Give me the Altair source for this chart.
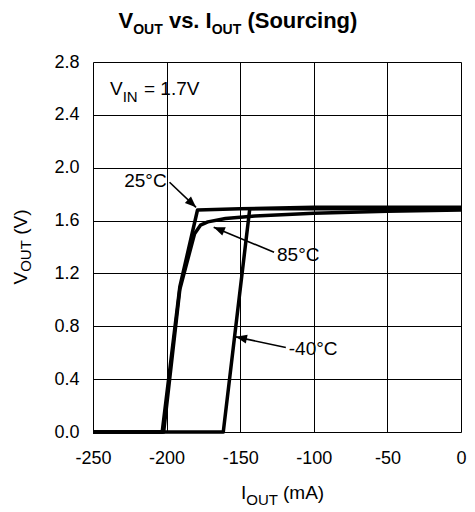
import math
import altair as alt
import pandas as pd

# ---- data ----
i_25 = [-250, -203, -191, -179, -150, -100, -50, 0]
v_25 = [0.0, 0.0, 1.10, 1.68, 1.69, 1.70, 1.70, 1.70]
i_85 = [-250, -202, -191, -181, -177, -172, -160, -140, -100, -50, 0]
v_85 = [0.0, 0.0, 1.08, 1.50, 1.565, 1.59, 1.615, 1.635, 1.655, 1.67, 1.68]
i_m40 = [-250, -161.5, -143.5, -100, 0]
v_m40 = [0.0, 0.0, 1.69, 1.69, 1.69]

x_ticks = [-250, -200, -150, -100, -50, 0]
y_ticks = [0.0, 0.4, 0.8, 1.2, 1.6, 2.0, 2.4, 2.8]

ann_text = ["25°C", "85°C", "-40°C"]
ann_i = [-200, -125, -117]
ann_v = [1.90, 1.34, 0.63]
ann_align = ["right", "left", "left"]
arr_i0 = [-198, -127, -119]
arr_v0 = [1.89, 1.36, 0.64]
arr_i1 = [-180, -168, -153]
arr_v1 = [1.70, 1.55, 0.72]

W, H = 368, 370
FONT = "Liberation Sans"

rows = []
for name, xs_, ys_ in [("25", i_25, v_25), ("85", i_85, v_85), ("-40", i_m40, v_m40)]:
    for k, (a, b) in enumerate(zip(xs_, ys_)):
        rows.append({"series": name, "i": a, "v": b, "order": k})
df = pd.DataFrame(rows)

xs = alt.Scale(domain=[-250, 0], nice=False, zero=False)
ys = alt.Scale(domain=[0, 2.8], nice=False, zero=False)

fix_minus = "replace(datum.label, '\u2212', '-')"
xaxis = alt.Axis(values=x_ticks, title=None, grid=True, gridColor="black", gridWidth=1,
                 gridOpacity=1, ticks=False, domain=False, labelFontSize=18, labelFont=FONT,
                 labelColor="black", labelPadding=17, labelFlush=False, labelExpr=fix_minus)
yaxis = alt.Axis(values=y_ticks, title=None, grid=True, gridColor="black", gridWidth=1,
                 gridOpacity=1, ticks=False, domain=False, labelFontSize=18, labelFont=FONT,
                 labelColor="black", labelPadding=14, format=".1f", labelFlush=False)

lines = alt.Chart(df).mark_line(color="black", strokeWidth=3.5, strokeJoin="round").encode(
    x=alt.X("i:Q", scale=xs, axis=xaxis),
    y=alt.Y("v:Q", scale=ys, axis=yaxis),
    detail="series:N",
    order="order:Q",
)

# annotations
pxu = W / 250.0
pyu = H / 2.8
arr_rows = []
for k in range(len(ann_text)):
    dx = (arr_i1[k] - arr_i0[k]) * pxu
    dy = -(arr_v1[k] - arr_v0[k]) * pyu
    ang = math.degrees(math.atan2(dx, -dy)) % 360
    arr_rows.append({"t": ann_text[k], "ti": ann_i[k], "tv": ann_v[k], "al": ann_align[k],
                     "i0": arr_i0[k], "v0": arr_v0[k], "i1": arr_i1[k], "v1": arr_v1[k],
                     "ang": ang})
adf = pd.DataFrame(arr_rows)

arrow_lines = alt.Chart(adf).mark_rule(color="black", strokeWidth=1.6).encode(
    x=alt.X("i0:Q", scale=xs), y=alt.Y("v0:Q", scale=ys),
    x2="i1:Q", y2="v1:Q")
heads = alt.Chart(adf).mark_point(shape="M0,0L-0.4,1L0.4,1Z", filled=True, color="black",
                                  opacity=1, size=500).encode(
    x=alt.X("i1:Q", scale=xs), y=alt.Y("v1:Q", scale=ys),
    angle=alt.Angle("ang:Q", scale=None))

lab_r = alt.Chart(adf[adf.al == "right"]).mark_text(align="right", baseline="middle",
                                                    fontSize=19, font=FONT, color="black").encode(
    x=alt.X("ti:Q", scale=xs), y=alt.Y("tv:Q", scale=ys), text="t:N")
lab_l = alt.Chart(adf[adf.al == "left"]).mark_text(align="left", baseline="middle",
                                                   fontSize=19, font=FONT, color="black").encode(
    x=alt.X("ti:Q", scale=xs), y=alt.Y("tv:Q", scale=ys), text="t:N")


def txt(s, x, y, size, bold=False, angle=0):
    kw = dict(align="left", baseline="alphabetic", fontSize=size, font=FONT, color="black",
              text=s)
    if bold:
        kw["fontWeight"] = "bold"
    if angle:
        kw["angle"] = angle
    return alt.Chart(df.head(1)).mark_text(**kw).encode(x=alt.value(x), y=alt.value(y))


pieces = [
    # title
    txt("V", 25.5, -34, 22, True), txt("OUT", 40.2, -28, 14, True),
    txt("vs. I", 75.9, -34, 22, True), txt("OUT", 118.7, -28, 14, True),
    txt("(Sourcing)", 154.4, -34, 22, True),
    # inside label
    txt("V", 17, 33, 19), txt("IN", 29.7, 40, 15), txt("= 1.7V", 51, 33, 19),
    # x axis title
    txt("I", 148, 437, 19), txt("OUT", 153.3, 443, 15), txt("(mA)", 190, 437, 19),
    # y axis title
    txt("V", -66, 222.5, 19, angle=270), txt("OUT", -62, 209.8, 15, angle=270),
    txt("(V)", -66, 172.8, 19, angle=270),
]

chart = alt.layer(lines, arrow_lines, heads, lab_r, lab_l, *pieces).properties(
    width=W, height=H,
    autosize=alt.AutoSizeParams(type="none"),
    padding={"left": 85, "top": 54, "right": 6, "bottom": 78},
).configure_view(stroke="black", strokeWidth=2).configure(background="white")

chart.save("out.html", embed_options={"renderer": "svg", "actions": False})
